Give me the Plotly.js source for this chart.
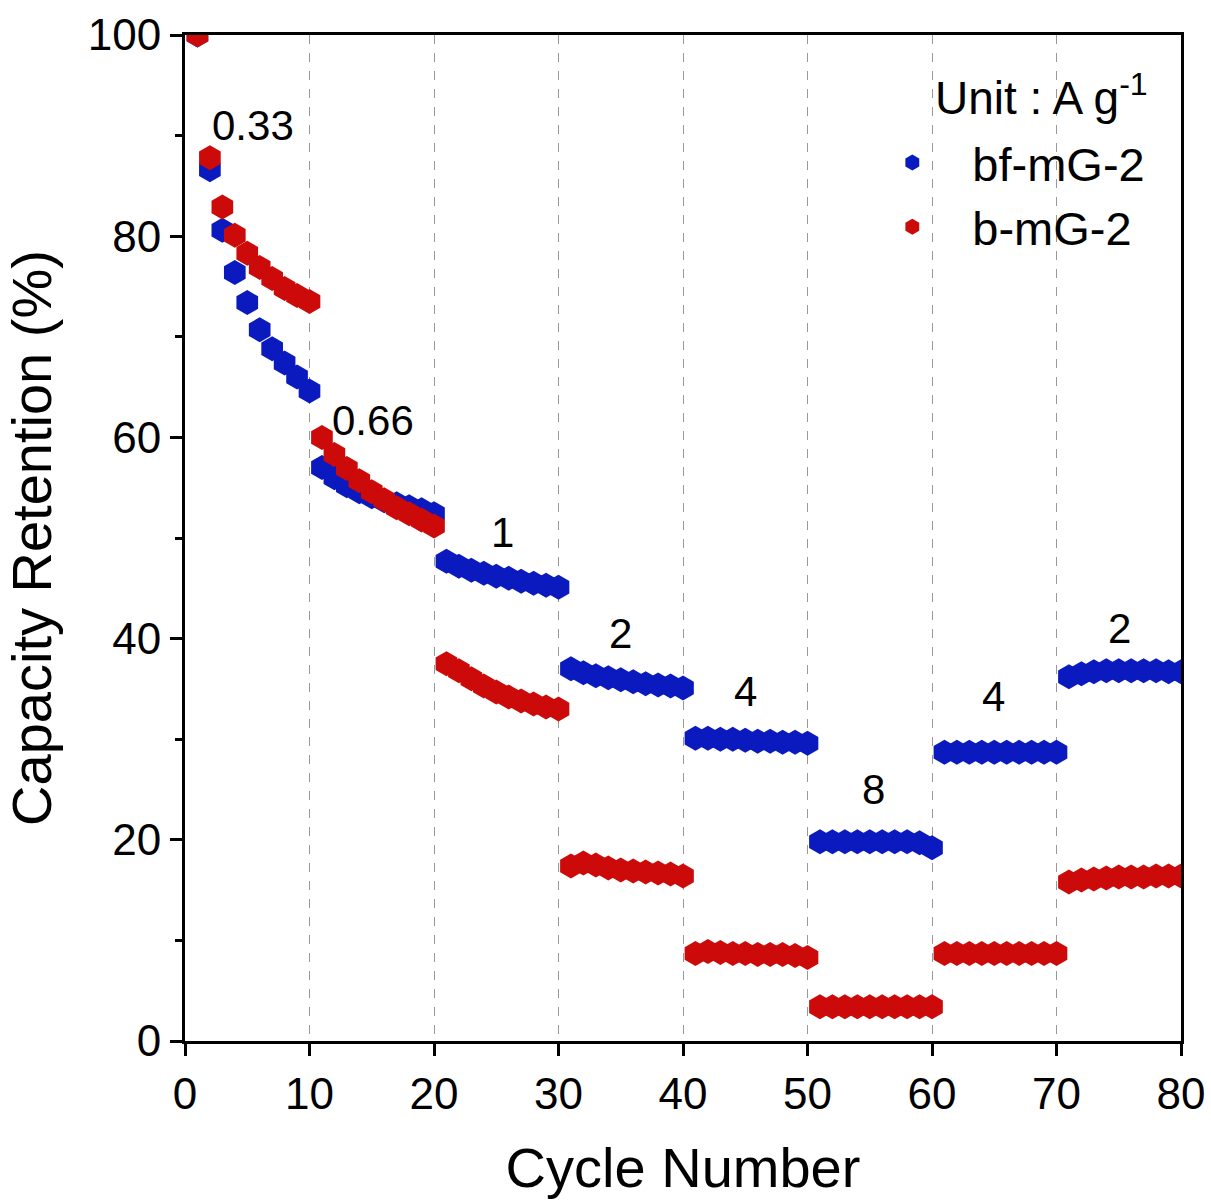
<!DOCTYPE html>
<html>
<head>
<meta charset="utf-8">
<script src="https://cdn.plot.ly/plotly-3.0.1.min.js"></script>
<style>html,body{margin:0;padding:0;background:#fff;}#chart{width:1211px;height:1202px;}</style>
</head>
<body>
<div id="chart"></div>
<script>
var cycles = [];
for (var i = 1; i <= 80; i++) cycles.push(i);

var bfmG2 = [
  100, 86.6, 80.6, 76.4, 73.4, 70.7, 68.8, 67.4, 66.0, 64.6,
  57.0, 56.0, 55.2, 54.6, 54.1, 53.7, 53.4, 53.1, 52.8, 52.4,
  47.7, 47.2, 46.8, 46.5, 46.2, 46.0, 45.7, 45.5, 45.3, 45.1,
  37.0, 36.6, 36.3, 36.1, 35.9, 35.7, 35.5, 35.4, 35.3, 35.1,
  30.1, 30.1, 30.0, 30.0, 29.9, 29.8, 29.8, 29.7, 29.7, 29.6,
  19.8, 19.8, 19.8, 19.8, 19.8, 19.8, 19.8, 19.8, 19.7, 19.2,
  28.7, 28.7, 28.7, 28.7, 28.7, 28.7, 28.7, 28.7, 28.7, 28.7,
  36.2, 36.5, 36.7, 36.8, 36.8, 36.8, 36.8, 36.8, 36.7, 36.7
];
var bmG2 = [
  100, 87.8, 82.9, 80.1, 78.3, 76.9, 75.8, 74.8, 74.1, 73.5,
  60.0, 58.3, 56.9, 55.7, 54.6, 53.8, 53.0, 52.4, 51.8, 51.2,
  37.5, 36.8, 36.0, 35.3, 34.7, 34.2, 33.8, 33.5, 33.2, 33.0,
  17.4, 17.7, 17.5, 17.2, 17.0, 16.9, 16.8, 16.7, 16.6, 16.4,
  8.7, 8.9, 8.8, 8.7, 8.7, 8.6, 8.6, 8.6, 8.5, 8.3,
  3.4, 3.4, 3.4, 3.4, 3.4, 3.4, 3.4, 3.4, 3.4, 3.4,
  8.7, 8.7, 8.7, 8.7, 8.7, 8.7, 8.7, 8.7, 8.7, 8.7,
  15.8, 16.0, 16.1, 16.2, 16.3, 16.3, 16.3, 16.4, 16.4, 16.4
];
var seriesNames = ['bf-mG-2', 'b-mG-2'];
var seriesColors = ['#0A1ABE', '#CC0A0A'];

var rateLabels = ['0.33', '0.66', '1', '2', '4', '8', '4', '2'];
var rateLabelX = [5.5, 15.1, 25.5, 35.0, 45.0, 55.3, 64.9, 75.1];
var rateLabelY = [91.0, 61.7, 50.5, 40.5, 34.7, 25.0, 34.2, 41.0];

var FONT = 'Liberation Sans, Arial, sans-serif';

var traces = [bfmG2, bmG2].map(function (ys, k) {
  return {
    x: cycles, y: ys, type: 'scatter', mode: 'markers', name: seriesNames[k],
    marker: {symbol: 'hexagon', size: 25, color: seriesColors[k], line: {width: 0}},
    cliponaxis: true
  };
});

var annotations = rateLabels.map(function (t, i) {
  return {x: rateLabelX[i], y: rateLabelY[i], xref: 'x', yref: 'y', text: t,
    showarrow: false, font: {family: FONT, size: 42, color: '#000'}};
});
annotations.push({x: 60.1, y: 94, xref: 'x', yref: 'y', xanchor: 'left', yanchor: 'middle',
  text: 'Unit : A g<sup>-1</sup>', showarrow: false, font: {family: FONT, size: 46, color: '#000'}});

var layout = {
  width: 1211, height: 1202,
  margin: {l: 185, r: 30, t: 35, b: 161},
  paper_bgcolor: '#fff', plot_bgcolor: '#fff',
  font: {family: FONT, color: '#000'},
  showlegend: true,
  legend: {x: 0.67, y: 0.91, xanchor: 'left', yanchor: 'top', bgcolor: 'rgba(0,0,0,0)',
    font: {family: FONT, size: 47, color: '#000'}, itemwidth: 110, tracegroupgap: 0},
  xaxis: {
    range: [0, 80], tickvals: [0, 10, 20, 30, 40, 50, 60, 70, 80],
    showgrid: true, gridcolor: '#999', griddash: 'dash', gridwidth: 1,
    zeroline: false, showline: true, linecolor: '#000', linewidth: 3, mirror: true,
    ticks: 'outside', ticklen: 12, tickwidth: 3, tickcolor: '#000',
    tickfont: {family: FONT, size: 44, color: '#000'},
    title: {text: 'Cycle Number', font: {family: FONT, size: 56, color: '#000'}, standoff: 32}
  },
  yaxis: {
    range: [0, 100], tickvals: [0, 20, 40, 60, 80, 100],
    showgrid: false, zeroline: false, showline: true, linecolor: '#000', linewidth: 3, mirror: true,
    ticks: 'outside', ticklen: 12, tickwidth: 3, tickcolor: '#000',
    minor: {tickvals: [10, 30, 50, 70, 90], ticks: 'outside', ticklen: 7, tickwidth: 3, tickcolor: '#000', showgrid: false},
    tickfont: {family: FONT, size: 44, color: '#000'},
    title: {text: 'Capacity Retention (%)', font: {family: FONT, size: 56, color: '#000'}, standoff: 20}
  },
  annotations: annotations
};

Plotly.newPlot('chart', traces, layout, {displayModeBar: false, staticPlot: true});
</script>
</body>
</html>
